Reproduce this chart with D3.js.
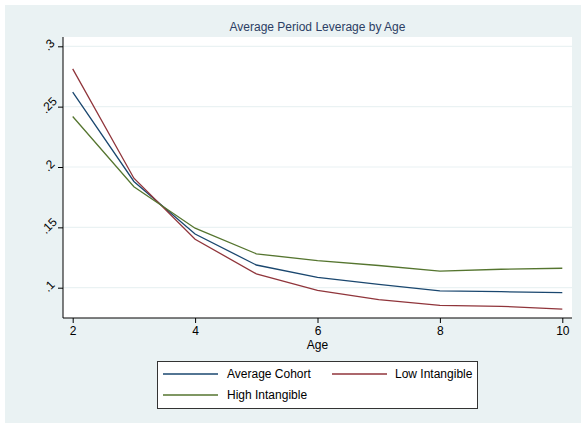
<!DOCTYPE html>
<html>
<head>
<meta charset="utf-8">
<script src="https://cdn.jsdelivr.net/npm/d3@7"></script>
<style>
  body { margin: 0; background: #fff; }
  svg text { font-family: "Liberation Sans", Arial, Helvetica, sans-serif; }
</style>
</head>
<body>
<div id="chart"></div>
<script>
const ages = [2, 3, 4, 5, 6, 7, 8, 9, 10]
const averageCohort = [0.262, 0.188, 0.1445, 0.1188, 0.1086, 0.1027, 0.0973, 0.0967, 0.0959]
const lowIntangible = [0.2813, 0.1907, 0.1401, 0.1115, 0.0977, 0.0902, 0.0854, 0.0846, 0.0823]
const highIntangible = [0.2418, 0.1837, 0.1493, 0.1281, 0.1224, 0.1184, 0.1138, 0.1153, 0.1161]
const xTicks = [2, 4, 6, 8, 10]
const yTicks = [0.1, 0.15, 0.2, 0.25, 0.3]
const yTickLabels = ['.1', '.15', '.2', '.25', '.3']

const series = [
  { name: 'Average Cohort', values: averageCohort, color: '#1a476f' },
  { name: 'Low Intangible', values: lowIntangible, color: '#90353b' },
  { name: 'High Intangible', values: highIntangible, color: '#55752f' }
]

const W = 581, H = 423
const plot = { left: 63, right: 572, top: 37, bottom: 318 }

const svg = d3.select('#chart').append('svg')
  .attr('width', W)
  .attr('height', H)

// outer graph region
svg.append('rect')
  .attr('x', 5).attr('y', 5)
  .attr('width', W - 5).attr('height', H - 5)
  .attr('fill', '#eaf2f3')

svg.append('rect')
  .attr('x', plot.left).attr('y', plot.top)
  .attr('width', plot.right - plot.left).attr('height', plot.bottom - plot.top)
  .attr('fill', '#fff')

const x = d3.scaleLinear().domain([2, 10]).range([72.7, 562.3])
const y = d3.scaleLinear().domain([0.1, 0.3]).range([287.7, 46.3])

// gridlines
svg.append('g')
  .selectAll('line')
  .data(yTicks)
  .enter()
  .append('line')
  .attr('x1', plot.left).attr('x2', plot.right)
  .attr('y1', d => y(d)).attr('y2', d => y(d))
  .attr('stroke', '#eaf2f3')
  .attr('stroke-width', 1.2)

// y axis
const yAxis = d3.axisLeft(y)
  .tickValues(yTicks)
  .tickFormat((d, i) => yTickLabels[i])
  .tickSize(5)
  .tickPadding(4)

const gy = svg.append('g')
  .attr('transform', `translate(${plot.left},0)`)
  .call(yAxis)
gy.select('.domain').remove()
gy.append('line')
  .attr('x1', 0).attr('x2', 0)
  .attr('y1', plot.top).attr('y2', plot.bottom)
  .attr('stroke', '#000')
gy.selectAll('.tick line').attr('stroke', '#000')
gy.selectAll('.tick text')
  .attr('fill', '#000')
  .style('font-size', '12px')
  .attr('text-anchor', 'middle')
  .attr('x', -12)
  .attr('dy', '0.1em')
  .attr('transform', 'rotate(-45,-12,0)')

// x axis
const xAxis = d3.axisBottom(x)
  .tickValues(xTicks)
  .tickFormat(d3.format('d'))
  .tickSize(5)
  .tickPadding(3)

const gx = svg.append('g')
  .attr('transform', `translate(0,${plot.bottom})`)
  .call(xAxis)
gx.select('.domain').remove()
gx.append('line')
  .attr('x1', plot.left).attr('x2', plot.right)
  .attr('y1', 0).attr('y2', 0)
  .attr('stroke', '#000')
gx.selectAll('.tick line').attr('stroke', '#000')
gx.selectAll('.tick text')
  .attr('fill', '#000')
  .style('font-size', '12px')

svg.append('text')
  .attr('x', (plot.left + plot.right) / 2)
  .attr('y', 349)
  .attr('text-anchor', 'middle')
  .style('font-size', '12px')
  .text('Age')

svg.append('text')
  .attr('x', (plot.left + plot.right) / 2)
  .attr('y', 31)
  .attr('text-anchor', 'middle')
  .style('font-size', '12px')
  .attr('fill', '#2c3e64')
  .text('Average Period Leverage by Age')

// lines
const line = d3.line()
  .x((d, i) => x(ages[i]))
  .y(d => y(d))

svg.append('g')
  .selectAll('path')
  .data(series)
  .enter()
  .append('path')
  .attr('d', d => line(d.values))
  .attr('fill', 'none')
  .attr('stroke', d => d.color)
  .attr('stroke-width', 1.3)

// legend
const legend = svg.append('g')
legend.append('rect')
  .attr('x', 157.5).attr('y', 361.5)
  .attr('width', 320).attr('height', 47)
  .attr('fill', '#fff')
  .attr('stroke', '#333')

const legendPos = [
  { lx: 163, tx: 227, ty: 374 },
  { lx: 332, tx: 395, ty: 374 },
  { lx: 163, tx: 227, ty: 395 }
]

legend.selectAll('g.item')
  .data(series)
  .enter()
  .append('g')
  .classed('item', true)
  .each(function (d, i) {
    const g = d3.select(this)
    const p = legendPos[i]
    g.append('line')
      .attr('x1', p.lx).attr('x2', p.lx + 55)
      .attr('y1', p.ty).attr('y2', p.ty)
      .attr('stroke', d.color)
      .attr('stroke-width', 1.3)
    g.append('text')
      .attr('x', p.tx).attr('y', p.ty)
      .attr('dy', '0.35em')
      .style('font-size', '12px')
      .text(d.name)
  })
</script>
</body>
</html>
